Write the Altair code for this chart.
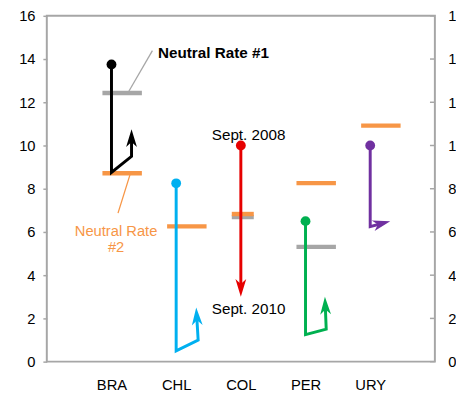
import math
import altair as alt
import pandas as pd

# ---------------- data ----------------
countries = ["BRA", "CHL", "COL", "PER", "URY"]
positions = [1, 2, 3, 4, 5]

# policy-rate paths: Sept. 2008 -> trough -> ... -> Sept. 2010
bra_rate = [13.75, 8.75, 9.5, 10.75]
chl_rate = [8.25, 0.5, 1.0, 2.5]
col_rate = [10.0, 3.0]
per_rate = [6.5, 1.25, 1.5, 3.0]
ury_rate = [10.0, 6.25, 6.5]
# sideways step of each path point (category units)
bra_step = [0, 0, 0.31, 0.31]
chl_step = [0, 0, 0.34, 0.31]
col_step = [0, 0]
per_step = [0, 0, 0.32, 0.30]
ury_step = [0, 0, 0.31]

neutral1_countries = ["BRA", "COL", "PER"]
neutral1 = [12.43, 6.69, 5.31]
neutral2_countries = ["BRA", "CHL", "COL", "PER", "URY"]
neutral2 = [8.72, 6.26, 6.83, 8.26, 10.92]

y_ticks = [0, 2, 4, 6, 8, 10, 12, 14, 16]

# ---------------- layout constants ----------------
W, H = 395, 352
PXX = W / 6.0      # px per category unit
PXY = H / 16.0     # px per rate unit
FONT = "Liberation Sans"
GRAY = "#A6A6A6"
ORANGE = "#F79646"
series_colors = ["#000000", "#00B0F0", "#E60000", "#00B050", "#7030A0"]
bar_left = 0.14
bar_right = {"BRA": 0.47, "CHL": 0.47, "COL": 0.20, "PER": 0.47, "URY": 0.47}

paths = {
    "BRA": (bra_step, bra_rate),
    "CHL": (chl_step, chl_rate),
    "COL": (col_step, col_rate),
    "PER": (per_step, per_rate),
    "URY": (ury_step, ury_rate),
}

line_rows, dot_rows, head_rows = [], [], []
BACK = 10.0  # px the line stops short of the arrow tip
for c, p in zip(countries, positions):
    steps, rates = paths[c]
    xs = [p + s for s in steps]
    ys = list(rates)
    dx = (xs[-1] - xs[-2]) * PXX
    dy = (ys[-1] - ys[-2]) * PXY
    L = math.hypot(dx, dy)
    ang = math.degrees(math.atan2(dx, dy)) % 360
    head_rows.append({"c": c, "x": xs[-1], "y": ys[-1], "ang": ang})
    ex = xs[-1] - dx / L * BACK / PXX
    ey = ys[-1] - dy / L * BACK / PXY
    pts = list(zip(xs[:-1], ys[:-1])) + [(ex, ey)]
    for i, (x, y) in enumerate(pts):
        line_rows.append({"c": c, "x": x, "y": y, "o": i})
    dot_rows.append({"c": c, "x": xs[0], "y": ys[0]})

lines_df = pd.DataFrame(line_rows)
dots_df = pd.DataFrame(dot_rows)
heads_df = pd.DataFrame(head_rows)

pos_of = dict(zip(countries, positions))
bar_rows = []
for c, v in zip(neutral1_countries, neutral1):
    bar_rows.append({"c": "Neutral Rate #1", "x": pos_of[c] - bar_left,
                     "x2": pos_of[c] + bar_right[c], "y": v, "o": 0})
for c, v in zip(neutral2_countries, neutral2):
    bar_rows.append({"c": "Neutral Rate #2", "x": pos_of[c] - bar_left,
                     "x2": pos_of[c] + bar_right[c], "y": v, "o": 1})
bars_df = pd.DataFrame(bar_rows)

color_scale = alt.Scale(
    domain=countries + ["Neutral Rate #1", "Neutral Rate #2"],
    range=series_colors + [GRAY, ORANGE],
)
xscale = alt.Scale(domain=[0, 6], nice=False, zero=False)
yscale = alt.Scale(domain=[0, 16], nice=False, zero=False)

label_expr = "[''," + ",".join("'%s'" % c for c in countries) + "][datum.value]"
x_axis = alt.Axis(values=positions, labelExpr=label_expr, ticks=False, domain=False,
                  grid=False, title=None, labelPadding=16, labelFontSize=15,
                  labelFont=FONT, labelColor="#000000")
left_axis = alt.Axis(values=y_ticks, orient="left", ticks=True, tickSize=4, tickColor=GRAY,
                     tickWidth=1.5, domain=False, grid=False, title=None, labelPadding=8,
                     labelFontSize=15, labelFont=FONT, labelColor="#000000")
right_axis = alt.Axis(values=y_ticks, orient="right", ticks=False, domain=False, grid=False,
                      title=None, labelPadding=13, labelFontSize=15, labelFont=FONT,
                      labelColor="#000000")

X = alt.X("x:Q", scale=xscale, axis=x_axis)

bars = alt.Chart(bars_df).mark_rule(strokeWidth=4.5, strokeCap="butt").encode(
    x=X, x2="x2:Q",
    y=alt.Y("y:Q", scale=yscale, axis=left_axis),
    color=alt.Color("c:N", scale=color_scale, legend=None),
    order="o:Q",
)

lines = alt.Chart(lines_df).mark_line(strokeWidth=3, strokeJoin="miter", strokeCap="butt").encode(
    x=X,
    y=alt.Y("y:Q", scale=yscale, axis=right_axis),
    color=alt.Color("c:N", scale=color_scale, legend=None),
    detail="c:N",
    order="o:Q",
)

dots = alt.Chart(dots_df).mark_circle(size=100, opacity=1).encode(
    x=X,
    y=alt.Y("y:Q", scale=yscale, axis=None),
    color=alt.Color("c:N", scale=color_scale, legend=None),
)

heads = alt.Chart(heads_df).mark_point(
    shape="M0,0 L0.55,1.8 L0,1.3 L-0.55,1.8 Z", size=400, filled=True, opacity=1, strokeWidth=0
).encode(
    x=X,
    y=alt.Y("y:Q", scale=yscale, axis=None),
    color=alt.Color("c:N", scale=color_scale, legend=None),
    angle=alt.Angle("ang:Q", scale=None),
)

right_ticks = alt.Chart(pd.DataFrame({"y": y_ticks})).mark_rule(color=GRAY, strokeWidth=1.5).encode(
    x=alt.value(W - 5), x2=alt.value(W),
    y=alt.Y("y:Q", scale=yscale, axis=None),
)

# annotations
leader_df = pd.DataFrame({
    "k": ["Neutral Rate #1", "Neutral Rate #2"],
    "x": [1.253, 1.294], "y": [12.43, 8.72],
    "x2": [1.633, 1.101], "y2": [14.39, 6.87],
})
leaders = alt.Chart(leader_df).mark_rule(strokeWidth=1.3).encode(
    x=X, x2="x2:Q",
    y=alt.Y("y:Q", scale=yscale, axis=None), y2="y2:Q",
    color=alt.Color("k:N", scale=alt.Scale(domain=["Neutral Rate #1", "Neutral Rate #2"],
                                           range=["#808080", ORANGE]), legend=None),
)

nr1 = alt.Chart(pd.DataFrame({"x": [1.72], "y": [14.26], "t": ["Neutral Rate #1"]})).mark_text(
    align="left", baseline="middle", font=FONT, fontSize=15.5, fontWeight="bold", color="#000000"
).encode(x=X, y=alt.Y("y:Q", scale=yscale, axis=None), text="t:N")

nr2 = alt.Chart(pd.DataFrame({"x": [1.071, 1.071], "y": [6.02, 5.30], "t": ["Neutral Rate", "#2"]})).mark_text(
    align="center", baseline="middle", font=FONT, fontSize=15, color=ORANGE
).encode(x=X, y=alt.Y("y:Q", scale=yscale, axis=None), text="t:N")

sept = alt.Chart(pd.DataFrame({"x": [3.12, 3.12], "y": [10.48, 2.43],
                               "t": ["Sept. 2008", "Sept. 2010"]})).mark_text(
    align="center", baseline="middle", font=FONT, fontSize=15.5, color="#000000"
).encode(x=X, y=alt.Y("y:Q", scale=yscale, axis=None), text="t:N")

chart = alt.layer(
    bars, lines, leaders, dots, heads, right_ticks, nr1, nr2, sept
).resolve_axis(y="independent").properties(
    width=W, height=H,
    autosize=alt.AutoSizeParams(type="none"),
    padding={"left": 39.5, "top": 4.5, "right": 21.5, "bottom": 30.5},
    background="white",
).configure_view(stroke=GRAY, strokeWidth=2)

chart.save("out.html", embed_options={"renderer": "svg", "actions": False})
